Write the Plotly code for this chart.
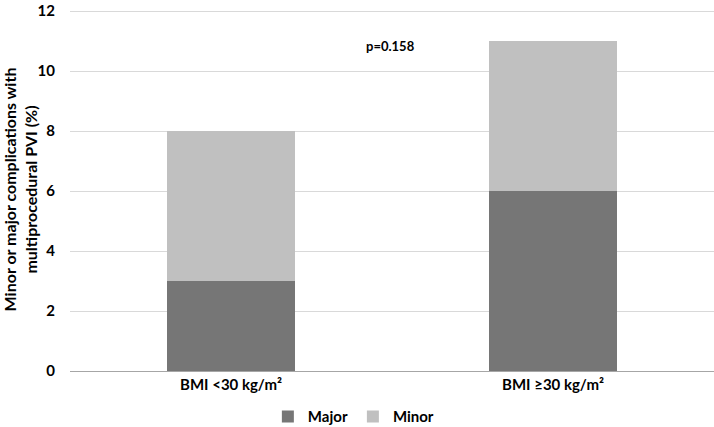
import plotly.graph_objects as go

categories = ["BMI <30 kg/m²", "BMI ≥30 kg/m²"]
major = [3, 6]
minor = [5, 5]
y_ticks = [0, 2, 4, 6, 8, 10, 12]

font_family = "Lato, Open Sans, Arial, sans-serif"

fig = go.Figure()
fig.add_trace(go.Bar(x=categories, y=major, name="Major", marker_color="#767676", marker_line_width=0))
fig.add_trace(go.Bar(x=categories, y=minor, name="Minor", marker_color="#c0c0c0", marker_line_width=0))

fig.update_layout(
    barmode="stack",
    bargap=0.6,
    width=714, height=427,
    margin=dict(l=70, r=0, t=8, b=56, autoexpand=False),
    plot_bgcolor="white", paper_bgcolor="white",
    font=dict(family=font_family, size=12, color="#000000"),
    legend=dict(orientation="h", x=0.44, xanchor="center", y=0.024, yanchor="middle",
                yref="container",
                font=dict(size=15, family=font_family, weight="bold"),
                traceorder="normal", itemwidth=30),
    showlegend=True,
)
fig.update_yaxes(range=[0, 12 * 363 / 360], tickvals=y_ticks, showgrid=True, gridcolor="#d9d9d9",
                 gridwidth=1, zeroline=False, showline=False, ticks="",
                 tickfont=dict(size=15, family=font_family, weight="bold"),
                 ticklabelstandoff=14, automargin=False, ticklabeloverflow="allow",
                 title=dict(text="Minor or major complications with<br>multiprocedural PVI (%)",
                            font=dict(size=16, family=font_family, weight="bold"), standoff=12))
fig.update_xaxes(showline=True, linecolor="#a6a6a6", linewidth=1, ticks="", automargin=False,
                 tickfont=dict(size=15, family=font_family, weight="bold"))
fig.add_annotation(text="p=0.158", xref="paper", yref="y", x=0.497, y=10.85,
                   showarrow=False, font=dict(size=13, family=font_family, weight="bold"))

fig.write_html("out.html", config={"displayModeBar": False},
               post_script="document.body.style.margin='0';")
